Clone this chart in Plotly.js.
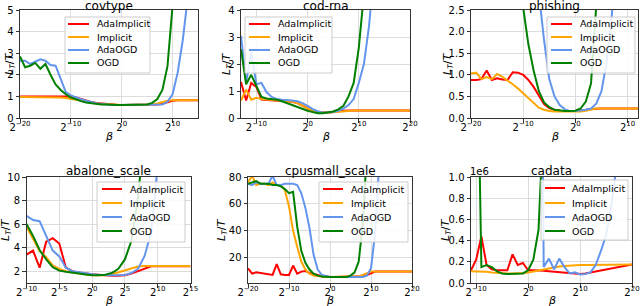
<!DOCTYPE html>
<html><head><meta charset="utf-8">
<script src="https://cdn.plot.ly/plotly-3.0.1.min.js"></script>
<style>html,body{margin:0;padding:0;background:#fff;}#chart{width:640px;height:306px;}</style>
</head><body><div id="chart"></div>
<script>
// ---------- DATA (x = log2(beta)) ----------
const seriesNames = ['AdaImplicit','Implicit','AdaOGD','OGD'];

const covtype_log2beta = [-20,-19,-18,-17,-16,-15,-14,-13,-12,-11,-10,-9,-8,-7,-6,-5,-4,-3,-2,-1,0,1,2,3,4,5,6,7,8,9,10,11,12,13,14,15];
const covtype_adaimplicit = [1.0,0.99,1.0,1.0,1.0,1.0,1.0,0.99,1.02,1.02,1.0,0.95,0.88,0.8,0.74,0.7,0.67,0.64,0.62,0.61,0.6,0.6,0.6,0.6,0.6,0.6,0.61,0.63,0.66,0.72,0.8,0.82,0.82,0.82,0.82,0.82];
const covtype_implicit = [0.97,0.97,0.98,0.98,0.97,0.97,0.97,0.96,0.95,0.93,0.9,0.85,0.8,0.74,0.7,0.67,0.65,0.63,0.62,0.61,0.6,0.6,0.6,0.6,0.6,0.61,0.63,0.67,0.73,0.8,0.82,0.82,0.82,0.82,0.82,0.82];
const covtype_adaogd = [2.65,2.65,2.5,2.6,2.72,2.65,2.45,2.42,1.8,1.2,1.05,0.95,0.87,0.8,0.73,0.68,0.65,0.62,0.6,0.6,0.6,0.6,0.6,0.6,0.6,0.6,0.6,0.6,0.63,0.75,1.1,2.1,3.6,5.6,null,null];
const covtype_ogd = [2.85,2.35,2.42,2.55,2.28,2.5,2.0,1.55,1.3,1.1,0.95,0.85,0.78,0.72,0.68,0.65,0.63,0.62,0.6,0.6,0.6,0.6,0.6,0.6,0.61,0.63,0.7,0.88,1.3,2.4,5.2,null,null,null,null,null];

const codrna_log2beta = [-13,-12,-11,-10,-9,-8,-7,-6,-5,-4,-3,-2,-1,0,1,2,3,4,5,6,7,8,9,10,11,12,13,14,15,16,17,18,19,20];
const codrna_adaimplicit = [1.33,0.65,1.3,1.15,0.68,0.66,0.65,0.64,0.63,0.62,0.6,0.55,0.45,0.35,0.27,0.22,0.2,0.2,0.22,0.25,0.27,0.28,0.28,0.28,0.28,0.28,0.28,0.28,0.28,0.28,0.28,0.28,0.28,0.28];
const codrna_implicit = [0.65,1.05,0.68,0.75,0.7,0.68,0.66,0.65,0.64,0.62,0.6,0.55,0.45,0.35,0.27,0.22,0.2,0.2,0.21,0.23,0.26,0.27,0.28,0.28,0.28,0.28,0.28,0.28,0.28,0.28,0.28,0.28,0.28,0.28];
const codrna_adaogd = [3.05,1.3,2.45,1.25,1.3,0.95,0.78,0.7,0.68,0.67,0.65,0.62,0.55,0.45,0.33,0.25,0.2,0.2,0.22,0.27,0.35,0.48,0.7,1.3,2.0,3.4,5.5,null,null,null,null,null,null,null];
const codrna_ogd = [2.55,1.25,1.6,1.2,0.78,0.72,0.7,0.68,0.62,0.55,0.48,0.4,0.33,0.27,0.22,0.18,0.18,0.2,0.24,0.32,0.45,0.8,1.3,2.6,4.6,null,null,null,null,null,null,null,null,null];

const phishing_log2beta = [-20,-19,-18,-17,-16,-15,-14,-13,-12,-11,-10,-9,-8,-7,-6,-5,-4,-3,-2,-1,0,1,2,3,4,5,6,7,8,9,10,11,12];
const phishing_adaimplicit = [0.88,0.88,0.9,1.1,0.88,0.92,0.89,0.88,1.06,1.05,1.0,0.88,0.72,0.52,0.32,0.23,0.19,0.17,0.16,0.16,0.16,0.17,0.19,0.21,0.22,0.22,0.22,0.22,0.22,0.22,0.22,0.22,0.22];
const phishing_implicit = [1.03,1.05,0.9,0.95,0.9,1.02,0.95,0.87,0.78,0.68,0.57,0.45,0.33,0.24,0.19,0.16,0.15,0.15,0.15,0.15,0.15,0.15,0.17,0.2,0.22,0.22,0.22,0.22,0.22,0.22,0.22,0.22,0.22];
const phishing_adaogd = [null,null,null,null,null,null,null,null,null,null,null,null,5.0,2.9,1.8,0.9,0.5,0.3,0.2,0.16,0.16,0.17,0.19,0.22,0.33,0.62,1.3,2.4,4.0,null,null,null,null];
const phishing_ogd = [null,null,null,null,null,null,null,null,null,null,2.55,1.7,1.1,0.62,0.36,0.25,0.19,0.17,0.16,0.16,0.17,0.22,0.38,0.8,2.6,5.0,null,null,null,null,null,null,null];

const abalone_log2beta = [-10,-9,-8,-7,-6,-5,-4,-3,-2,-1,0,1,2,3,4,5,6,7,8,9,10,11,12,13,14,15];
const abalone_adaimplicit = [3.4,3.75,2.3,4.5,4.8,4.35,2.3,2.0,1.9,1.8,1.75,1.7,1.65,1.62,1.62,1.65,1.8,2.0,2.25,2.42,2.45,2.45,2.45,2.45,2.45,2.43];
const abalone_implicit = [5.8,4.7,3.7,3.2,2.5,2.2,2.0,1.9,1.85,1.75,1.65,1.62,1.65,1.75,1.9,2.05,2.25,2.4,2.45,2.45,2.45,2.45,2.45,2.45,2.45,2.45];
const abalone_adaogd = [6.7,6.35,6.25,5.0,3.75,3.25,2.3,2.0,1.9,1.8,1.75,1.7,1.65,1.65,1.65,1.68,1.85,2.2,3.3,5.3,11,null,null,null,null,null];
const abalone_ogd = [6.0,5.0,3.8,3.0,2.35,2.05,1.95,1.85,1.8,1.72,1.65,1.65,1.7,1.85,2.2,3.0,4.6,8.3,14,null,null,null,null,null,null,null];

const cpusmall_log2beta = [-20,-19,-18,-17,-16,-15,-14,-13,-12,-11,-10,-9,-8,-7,-6,-5,-4,-3,-2,-1,0,1,2,3,4,5,6,7,8,9,10,11,12,13,14,15,16,17,18,19,20];
const cpusmall_adaimplicit = [12,8,9,8.5,8.5,8,7,15,7.5,7,7,14,8,9.5,10,8.5,8,7,6,5.5,5.5,5.5,5.5,5.5,5.5,5.5,5.5,5.5,6,7,8.5,9.5,9.5,9.5,9.5,9.5,9.5,9.5,9.5,9.5,9.5];
const cpusmall_implicit = [76,81,74,75,75,74,76,74,74,70,58,40,28,17,11,8,6.5,6,5.5,5.5,5.5,5.5,5.5,5.5,5.5,5.5,5.5,6,7,8.5,9.5,9.5,9.5,9.5,9.5,9.5,9.5,9.5,9.5,9.5,9.5];
const cpusmall_adaogd = [75,74,76,75,75,75,81,74,74,75,75,75,74,68,57,42,22,11,7,6,5.5,5.5,5.5,5.5,5.5,5.5,5.5,5.5,5.5,6.5,12,38,90,null,null,null,null,null,null,null,null];
const cpusmall_ogd = [75,76,77,75,75,75,74,74,73,71,68,69,43,25,16,11,8,6.5,5.8,5.5,5.5,5.5,5.5,5.5,5.5,6.5,9,17,45,100,null,null,null,null,null,null,null,null,null,null,null];

// cadata values are in units of 1e6
const cadata_log2beta = [-11,-10,-9,-8,-7,-6,-5,-4,-3,-2,-1,0,1,2,3,4,5,6,7,8,9,10,11,12,13,14,15,16,17,18,19,20];
const cadata_adaimplicit = [0.12,0.22,0.44,0.17,0.13,0.12,0.12,0.12,0.27,0.17,0.19,0.12,0.12,0.12,0.115,0.11,0.105,0.1,0.095,0.09,0.085,0.085,0.09,0.1,0.11,0.12,0.13,0.14,0.15,0.16,0.17,0.175];
const cadata_implicit = [0.11,0.11,0.11,0.105,0.1,0.095,0.09,0.09,0.09,0.09,0.095,0.1,0.11,0.12,0.13,0.14,0.15,0.155,0.16,0.165,0.17,0.17,0.17,0.17,0.17,0.17,0.17,0.175,0.175,0.175,0.175,0.175];
const cadata_adaogd = [null,null,null,null,null,null,null,null,null,null,null,null,null,6.0,0.15,0.23,0.13,0.23,0.15,0.09,0.1,0.08,0.085,0.1,0.17,0.3,0.45,0.72,1.1,null,null,null];
const cadata_ogd = [null,3.0,0.15,0.17,0.15,0.11,0.09,0.085,0.085,0.085,0.09,0.12,0.22,0.5,1.6,null,null,null,null,null,null,null,null,null,null,null,null,null,null,null,null,null];

// tick values / labels
const covtype_xticks = [-20,-10,0,10];
const covtype_xticklabels = ['2<sup>−20</sup>','2<sup>−10</sup>','2<sup>0</sup>','2<sup>10</sup>'];
const codrna_xticks = [-10,0,10,20];
const codrna_xticklabels = ['2<sup>−10</sup>','2<sup>0</sup>','2<sup>10</sup>','2<sup>20</sup>'];
const phishing_xticks = [-20,-10,0,10];
const phishing_xticklabels = ['2<sup>−20</sup>','2<sup>−10</sup>','2<sup>0</sup>','2<sup>10</sup>'];
const abalone_xticks = [-10,-5,0,5,10,15];
const abalone_xticklabels = ['2<sup>−10</sup>','2<sup>−5</sup>','2<sup>0</sup>','2<sup>5</sup>','2<sup>10</sup>','2<sup>15</sup>'];
const cpusmall_xticks = [-20,-10,0,10,20];
const cpusmall_xticklabels = ['2<sup>−20</sup>','2<sup>−10</sup>','2<sup>0</sup>','2<sup>10</sup>','2<sup>20</sup>'];
const cadata_xticks = [-10,0,10,20];
const cadata_xticklabels = ['2<sup>−10</sup>','2<sup>0</sup>','2<sup>10</sup>','2<sup>20</sup>'];

const covtype_yticks = [0,1,2,3,4,5];
const codrna_yticks = [0,1,2,3,4];
const phishing_yticks = [0,0.5,1,1.5,2,2.5];
const abalone_yticks = [2,4,6,8,10];
const cpusmall_yticks = [20,40,60,80];
const cadata_yticks = [0,0.2,0.4,0.6,0.8,1.0];

// ---------- STYLE / LAYOUT ----------
const W = 640, H = 306;
const FONT = 'DejaVu Sans, Liberation Sans, sans-serif';
const lineColors = ['#ff0000','#ffa500','#6495ed','#008000'];

const panels = [
  {title:'covtype', x:covtype_log2beta, ys:[covtype_adaimplicit,covtype_implicit,covtype_adaogd,covtype_ogd],
   box:[20,198,10,118], xr:[-20,15], yr:[0,5], xt:covtype_xticks, xtl:covtype_xticklabels, yt:covtype_yticks, yfmt:'',
   leg:{x0:65,x1:150,y0:17,y1:73,lx0:68,lx1:89,tx:95,rows:[24,37,50,63]}, ylabX:10, titleY:6, betaY:145},
  {title:'cod-rna', x:codrna_log2beta, ys:[codrna_adaimplicit,codrna_implicit,codrna_adaogd,codrna_ogd],
   box:[241,410,10,118], xr:[-13,20], yr:[0,4], xt:codrna_xticks, xtl:codrna_xticklabels, yt:codrna_yticks, yfmt:'',
   leg:{x0:245,x1:332,y0:17,y1:73,lx0:249,lx1:270,tx:276,rows:[24,37,50,63]}, ylabX:227, titleY:6, betaY:145},
  {title:'phishing', x:phishing_log2beta, ys:[phishing_adaimplicit,phishing_implicit,phishing_adaogd,phishing_ogd],
   box:[471,638,10,118], xr:[-20,12], yr:[0,2.5], xt:phishing_xticks, xtl:phishing_xticklabels, yt:phishing_yticks, yfmt:'.1f',
   leg:{x0:547,x1:635,y0:17,y1:73,lx0:551,lx1:572,tx:578,rows:[24,37,50,63]}, ylabX:448, titleY:6, betaY:145},
  {title:'abalone_scale', x:abalone_log2beta, ys:[abalone_adaimplicit,abalone_implicit,abalone_adaogd,abalone_ogd],
   box:[26.5,190.5,177,283], xr:[-10,15], yr:[1,10], xt:abalone_xticks, xtl:abalone_xticklabels, yt:abalone_yticks, yfmt:'',
   leg:{x0:97,x1:185,y0:182,y1:242,lx0:102,lx1:122,tx:128,rows:[189,203,217,231]}, ylabX:6, titleY:171, betaY:309},
  {title:'cpusmall_scale', x:cpusmall_log2beta, ys:[cpusmall_adaimplicit,cpusmall_implicit,cpusmall_adaogd,cpusmall_ogd],
   box:[248,412,177,283], xr:[-20,20], yr:[1,80], xt:cpusmall_xticks, xtl:cpusmall_xticklabels, yt:cpusmall_yticks, yfmt:'',
   leg:{x0:319,x1:408,y0:182,y1:242,lx0:323,lx1:343,tx:349,rows:[189,203,217,231]}, ylabX:222, titleY:171, betaY:309},
  {title:'cadata', x:cadata_log2beta, ys:[cadata_adaimplicit,cadata_implicit,cadata_adaogd,cadata_ogd],
   box:[471,632,177,283], xr:[-11,20], yr:[0,1], xt:cadata_xticks, xtl:cadata_xticklabels, yt:cadata_yticks, yfmt:'.1f',
   leg:{x0:541,x1:628,y0:180,y1:240,lx0:545,lx1:565,tx:570,rows:[188,203,217,231]}, ylabX:446, titleY:171, betaY:309}
];

const px = v => v / W;
const py = v => 1 - v / H;

const traces = [];
const layout = {
  width: W, height: H,
  margin: {l:0, r:0, t:0, b:0},
  paper_bgcolor: '#ffffff', plot_bgcolor: '#ffffff',
  showlegend: false,
  font: {family: FONT, size: 10, color: '#000'},
  shapes: [], annotations: []
};

panels.forEach((p, i) => {
  const n = i === 0 ? '' : String(i + 1);
  p.ys.forEach((y, j) => {
    traces.push({
      type: 'scatter', mode: 'lines', x: p.x, y: y,
      xaxis: 'x' + n, yaxis: 'y' + n, name: seriesNames[j],
      line: {color: lineColors[j], width: 2},
      connectgaps: false, showlegend: false, hoverinfo: 'skip'
    });
  });
  const common = {
    showgrid: true, gridcolor: '#dcdcdc', gridwidth: 1,
    showline: true, mirror: true, linecolor: '#333', linewidth: 1,
    ticks: 'outside', ticklen: 3.5, tickcolor: '#333', tickwidth: 1,
    zeroline: false, fixedrange: true,
    tickfont: {family: FONT, size: 10, color: '#000'}
  };
  layout['xaxis' + n] = Object.assign({}, common, {
    domain: [px(p.box[0]), px(p.box[1])], anchor: 'y' + n,
    range: p.xr, tickmode: 'array', tickvals: p.xt, ticktext: p.xtl,
    ticklabelstandoff: -4
  });
  layout['yaxis' + n] = Object.assign({}, common, {
    domain: [py(p.box[3]), py(p.box[2])], anchor: 'x' + n,
    range: p.yr, tickmode: 'array', tickvals: p.yt, tickformat: p.yfmt
  });
  // title
  layout.annotations.push({
    xref: 'paper', yref: 'paper', x: px((p.box[0] + p.box[1]) / 2), y: py(p.titleY),
    xanchor: 'center', yanchor: 'middle', showarrow: false,
    text: p.title, font: {family: FONT, size: 12, color: '#000'}
  });
  // x-axis label (bottom-anchored)
  layout.annotations.push({
    xref: 'paper', yref: 'paper', x: px((p.box[0] + p.box[1]) / 2), y: py(p.betaY),
    xanchor: 'center', yanchor: 'bottom', showarrow: false,
    text: '<i>β</i>', font: {family: FONT, size: 11, color: '#000'}
  });
  // y-axis label
  layout.annotations.push({
    xref: 'paper', yref: 'paper', x: px(p.ylabX), y: py((p.box[2] + p.box[3]) / 2),
    xanchor: 'center', yanchor: 'middle', textangle: -90, showarrow: false,
    text: '<i>L</i><sub><i>T</i></sub>/<i>T</i>', font: {family: FONT, size: 11, color: '#000'}
  });
  // legend box
  const L = p.leg;
  layout.shapes.push({
    type: 'rect', xref: 'paper', yref: 'paper', layer: 'above',
    x0: px(L.x0), x1: px(L.x1), y0: py(L.y1), y1: py(L.y0),
    fillcolor: 'rgba(255,255,255,0.85)', line: {color: '#cccccc', width: 1}
  });
  seriesNames.forEach((name, j) => {
    layout.shapes.push({
      type: 'line', xref: 'paper', yref: 'paper', layer: 'above',
      x0: px(L.lx0), x1: px(L.lx1), y0: py(L.rows[j]), y1: py(L.rows[j]),
      line: {color: lineColors[j], width: 2}
    });
    layout.annotations.push({
      xref: 'paper', yref: 'paper', x: px(L.tx), y: py(L.rows[j]),
      xanchor: 'left', yanchor: 'middle', showarrow: false,
      text: name, font: {family: FONT, size: 9.5, color: '#000'}
    });
  });
});

// offset text for cadata
layout.annotations.push({
  xref: 'paper', yref: 'paper', x: px(479), y: py(171),
  xanchor: 'center', yanchor: 'middle', showarrow: false,
  text: '1e6', font: {family: FONT, size: 10, color: '#000'}
});

Plotly.newPlot('chart', traces, layout, {staticPlot: true, displayModeBar: false});
</script>
</body></html>
